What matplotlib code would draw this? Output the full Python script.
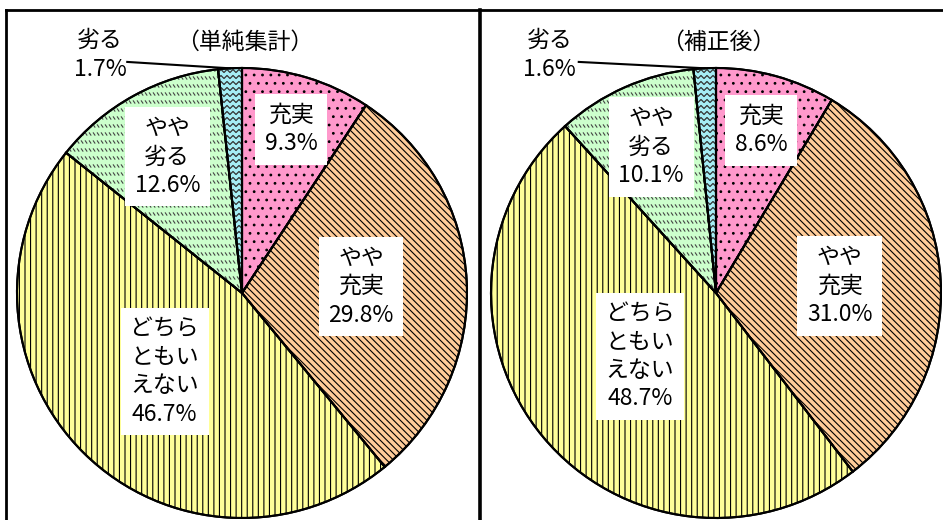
import numpy as np
import matplotlib
matplotlib.use('Agg')
import matplotlib.pyplot as plt
from matplotlib.collections import LineCollection
from matplotlib.lines import Line2D
from matplotlib.patches import Wedge

plt.rcParams['font.family'] = ['Noto Sans CJK JP', 'DejaVu Sans']
plt.rcParams['hatch.linewidth'] = 0.8

# data
categories = ['充実', 'やや\n充実', 'どちら\nともい\nえない', 'やや\n劣る', '劣る']
titles = ['（単純集計）', '（補正後）']
simple_values = [9.3, 29.8, 46.7, 12.6, 1.7]
adjusted_values = [8.6, 31.0, 48.7, 10.1, 1.6]

colors = ['#FF99CC', '#FFCC99', '#FFFF99', '#CCFFCC', '#A6EEF6']
hatches = ['..', '\\\\\\\\\\', '|||', None, None]

# label distance (fraction of radius) for the inside labels
label_r = [[0.76, 0.53, 0.49, 0.69], [0.75, 0.55, 0.44, 0.71]]
small_label_xy = [(-0.63, 1.058), (-0.74, 1.058)]
leader_start = [(-0.51, 1.027), (-0.61, 1.027)]

W, H = 943, 520
R = 225  # pie radius in px
centers = [(242, 293), (716, 293)]
FS = 16.5

fig = plt.figure(figsize=(W / 100, H / 100), dpi=100)

PX = 1.0 / R  # one pixel in data units


def dash_texture(ax, wedge):
    # rows of short "\" strokes
    segs = []
    for y in np.arange(-1.0, 1.0, 8 * PX):
        for x in np.arange(-1.0, 0.2, 4 * PX):
            segs.append([(x, y + 1.6 * PX), (x + 2.2 * PX, y - 1.6 * PX)])
    lc = LineCollection(segs, colors='#444444', linewidths=0.8, zorder=3)
    ax.add_collection(lc)
    lc.set_clip_path(wedge)


def wave_texture(ax, wedge):
    # horizontal zigzag lines
    xs = np.arange(-0.2, 0.05, 3 * PX)
    segs = []
    for y in np.arange(0.0, 1.02, 6 * PX):
        ys = y + np.where(np.arange(len(xs)) % 2 == 0, 1.5 * PX, -1.5 * PX)
        segs.append(np.column_stack([xs, ys]))
    lc = LineCollection(segs, colors='#333333', linewidths=0.9, zorder=3)
    ax.add_collection(lc)
    lc.set_clip_path(wedge)


for i, values in enumerate([simple_values, adjusted_values]):
    cx, cy = centers[i]
    ax = fig.add_axes([(cx - R) / W, (H - cy - R) / H, 2 * R / W, 2 * R / H])

    wedges, _ = ax.pie(values, colors=colors, hatch=hatches, startangle=90,
                       counterclock=False, radius=1.0,
                       wedgeprops=dict(edgecolor='black', linewidth=1.5))
    ax.set_xlim(-1, 1)
    ax.set_ylim(-1, 1)
    ax.axis('off')
    for w in wedges:
        w.set_clip_on(False)
    dash_texture(ax, wedges[3])
    wave_texture(ax, wedges[4])
    # redraw outlines above the textures
    for w in wedges:
        ax.add_patch(Wedge(w.center, w.r, w.theta1, w.theta2,
                           facecolor='none', edgecolor='black',
                           linewidth=1.5, zorder=4, clip_on=False))

    for j, w in enumerate(wedges):
        mid = np.deg2rad((w.theta1 + w.theta2) / 2)
        text = f'{categories[j]}\n{values[j]:.1f}%'
        if j < 4:
            r = label_r[i][j]
            ax.text(r * np.cos(mid), r * np.sin(mid), text, ha='center',
                    va='center', fontsize=FS, linespacing=1.3, zorder=5,
                    bbox=dict(facecolor='white', edgecolor='none', pad=7))
        else:
            tx, ty = small_label_xy[i]
            ax.text(tx, ty, text, ha='center', va='center', fontsize=FS,
                    linespacing=1.3, zorder=5, clip_on=False)
            sx, sy = leader_start[i]
            ax.add_line(Line2D([sx, np.cos(mid)], [sy, np.sin(mid)],
                               color='black', linewidth=1.5, zorder=5,
                               clip_on=False))

    ax.text(0.01, 1.115, titles[i], ha='center', va='center', fontsize=FS,
            clip_on=False)

# panel frame
fig.add_artist(Line2D([6 / W, 1], [1 - 10 / H, 1 - 10 / H], color='black',
                      linewidth=2.0, transform=fig.transFigure))
fig.add_artist(Line2D([6 / W, 6 / W], [0, 1 - 10 / H], color='black',
                      linewidth=2.0, transform=fig.transFigure))
fig.add_artist(Line2D([480 / W, 480 / W], [0, 1 - 10 / H], color='black',
                      linewidth=2.6, transform=fig.transFigure))

fig.savefig('out.png', dpi=100, facecolor='white')
